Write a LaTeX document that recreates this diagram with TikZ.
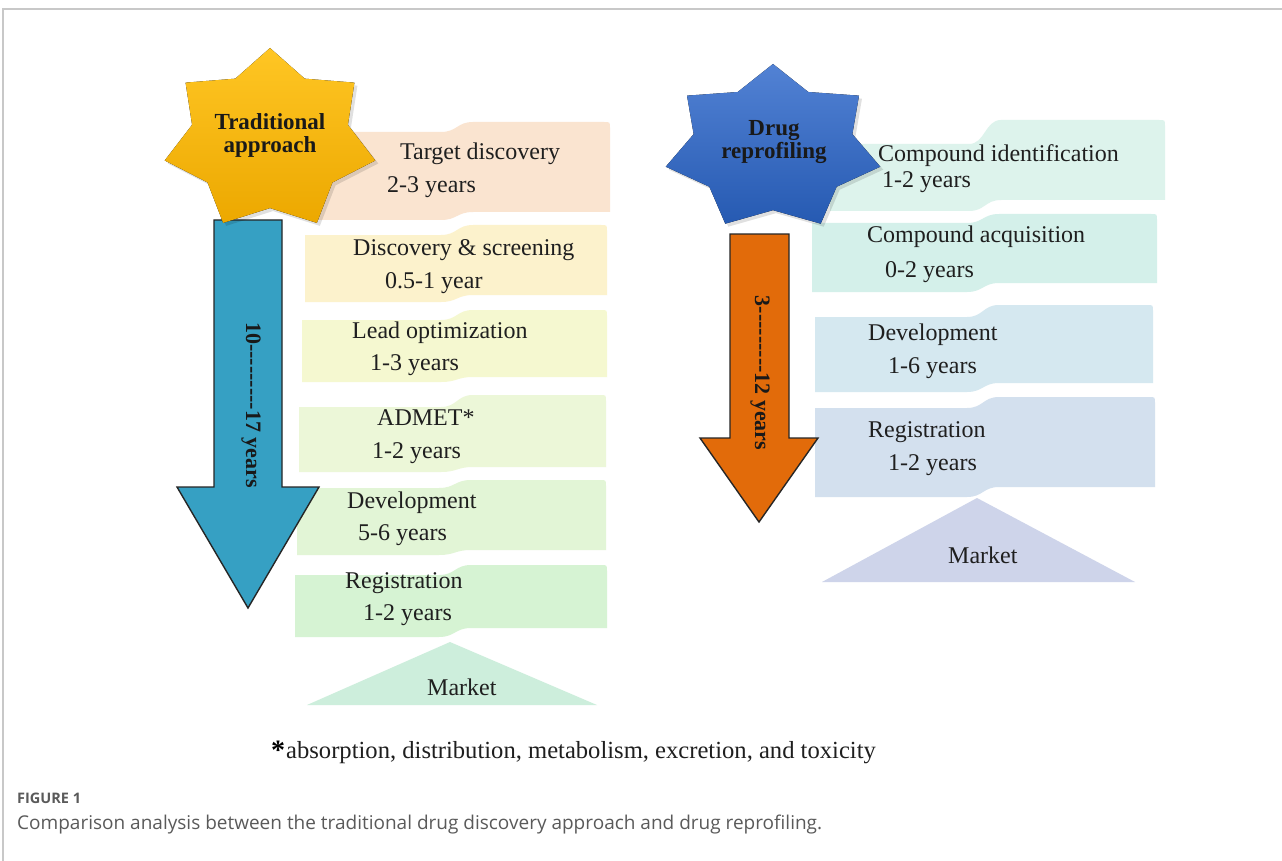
\documentclass[tikz,border=0pt]{standalone}
\usepackage{fontspec}
\setmainfont{Liberation Serif}
\newfontfamily\capfont{Open Sans}
\definecolor{framegray}{RGB}{200,200,200}
\definecolor{bA}{RGB}{250,228,208}
\definecolor{bB}{RGB}{252,242,204}
\definecolor{bC}{RGB}{245,248,208}
\definecolor{bD}{RGB}{236,247,216}
\definecolor{bE}{RGB}{226,245,214}
\definecolor{bF}{RGB}{214,243,211}
\definecolor{mL}{RGB}{205,238,220}
\definecolor{rA}{RGB}{221,243,236}
\definecolor{rB}{RGB}{212,240,234}
\definecolor{rC}{RGB}{213,232,240}
\definecolor{rD}{RGB}{211,224,238}
\definecolor{mR}{RGB}{206,212,234}
\definecolor{arrblue}{RGB}{54,160,195}
\definecolor{arrorange}{RGB}{226,107,10}
\definecolor{capgray}{RGB}{90,90,90}
\newcommand{\wavebanner}[8]{%
  \fill[#8] (#1,#4) -- ({#3-16},#4) .. controls (#3,#4) and (#3,#5) .. ({#3+16},#5)
    -- ({#2-6},#5) .. controls (#2,#5) and (#2,#5) .. (#2,{#5+6})
    -- (#2,#7) -- ({#3+16},#7) .. controls (#3,#7) and (#3,#6) .. ({#3-16},#6)
    -- (#1,#6) -- cycle;}
\newcommand{\sevenstar}[6]{%
  \begin{scope}[shift={(#1,#2)}]
  \fill[#6] ({0},{-#4}) \foreach \k in {0,...,6} {
     -- ({#3*#5*cos(-90+360/7*\k+180/7)},{#4*#5*sin(-90+360/7*\k+180/7)})
     -- ({#3*cos(-90+360/7*(\k+1))},{#4*sin(-90+360/7*(\k+1))}) } -- cycle;
  \end{scope}}
\tikzset{
  lbl/.style={anchor=base west, inner sep=0pt, font=\fontsize{24}{28}\selectfont, text=black!88},
  startxt/.style={anchor=base, inner sep=0pt, font=\bfseries\fontsize{23}{23}\selectfont, text=black!90},
  arrtxt/.style={rotate=-90, inner sep=0pt, font=\bfseries\fontsize{22}{22}\selectfont, text=black!90},
  arrowshape/.style={draw=black!85, line width=1.4pt, line join=miter}
}
\begin{document}
\begin{tikzpicture}[x=1pt,y=-1pt]
\useasboundingbox (0,0) rectangle (1282,861);
\fill[white] (0,0) rectangle (1282,861);
\draw[framegray, line width=1.2pt] (3,861) -- (3,9) -- (1282,9);

% left banners
\wavebanner{318}{610}{457}{132}{122}{220}{212}{bA}
\wavebanner{305}{607}{457}{235}{225}{302}{295}{bB}
\wavebanner{302}{607}{457}{320}{310}{382}{377}{bC}
\wavebanner{299}{606}{457}{407}{395}{472}{467}{bD}
\wavebanner{297}{606}{455}{488}{480}{555}{550}{bE}
\wavebanner{295}{607}{455}{575}{565}{637}{628}{bF}
\fill[mL] (450,642) -- (597,705) -- (307,705) -- cycle;

% right banners
\wavebanner{830}{1165}{985}{144}{120}{211}{200}{rA}
\wavebanner{812}{1157}{983}{223}{214}{292}{283}{rB}
\wavebanner{815}{1153}{983}{317}{305}{392}{383}{rC}
\wavebanner{815}{1155}{983}{408}{397}{497}{487}{rD}
\fill[mR] (977,498) -- (1135,582) -- (822,582) -- cycle;

% arrows
\draw[arrowshape, fill=arrblue] (214,220) -- (282,220) -- (282,487) -- (319,487) -- (248,608) -- (177,487) -- (214,487) -- cycle;
\draw[arrowshape, fill=arrorange] (730,234) -- (789,234) -- (789,438) -- (818,438) -- (759,522) -- (700,438) -- (730,438) -- cycle;

% stars
\sevenstar{273}{143}{108}{92}{0.74}{black, opacity=0.12}
\sevenstar{270}{140}{108}{92}{0.74}{top color={rgb,255:red,255;green,198;blue,36}, bottom color={rgb,255:red,236;green,168;blue,0}}
\sevenstar{776}{151}{110}{84}{0.74}{black, opacity=0.12}
\sevenstar{773}{148}{110}{84}{0.74}{top color={rgb,255:red,82;green,130;blue,212}, bottom color={rgb,255:red,38;green,90;blue,178}}

\node[startxt] (s1a) at (270,130) {Traditional};
\node[startxt] (s1b) at (270,153) {approach};
\node[startxt] (s2a) at (774,136) {Drug};
\node[startxt] (s2b) at (774,159) {reprofiling};

\node[arrtxt] (a1) at (251,405) {10-{}-{}-{}-{}-{}-{}-{}-{}-17 years};
\node[arrtxt] (a2) at (760,373) {3-{}-{}-{}-{}-{}-{}-{}-{}-12 years};

% left texts
\node[lbl] (l1a) at (400,160) {Target discovery};
\node[lbl] (l1b) at (387,193) {2-3 years};
\node[lbl] (l2a) at (353,255) {Discovery \& screening};
\node[lbl] (l2b) at (385,288) {0.5-1 year};
\node[lbl] (l3a) at (352,338) {Lead optimization};
\node[lbl] (l3b) at (370,370) {1-3 years};
\node[lbl] (l4a) at (377,425) {ADMET*};
\node[lbl] (l4b) at (372,458) {1-2 years};
\node[lbl] (l5a) at (347,508) {Development};
\node[lbl] (l5b) at (358,540) {5-6 years};
\node[lbl] (l6a) at (345,588) {Registration};
\node[lbl] (l6b) at (363,620) {1-2 years};
\node[lbl] (lm) at (427,695) {Market};

% right texts
\node[lbl] (r1a) at (878,162) {Compound identification};
\node[lbl] (r1b) at (882,188) {1-2 years};
\node[lbl] (r2a) at (867,243) {Compound acquisition};
\node[lbl] (r2b) at (885,277) {0-2 years};
\node[lbl] (r3a) at (868,340) {Development};
\node[lbl] (r3b) at (888,373) {1-6 years};
\node[lbl] (r4a) at (868,437) {Registration};
\node[lbl] (r4b) at (888,470) {1-2 years};
\node[lbl] (rm) at (948,563) {Market};

% footnote
\node[anchor=base west, inner sep=0pt, font=\bfseries\fontsize{28}{28}\selectfont] (fnstar) at (271,759) {*};
\node[anchor=base west, inner sep=0pt, font=\fontsize{24.6}{28}\selectfont, text=black!88] (fn) at (286,758) {absorption, distribution, metabolism, excretion, and toxicity};

% caption
\node[anchor=base west, inner sep=0pt, font=\capfont\bfseries\fontsize{14.5}{16}\selectfont, text=capgray] (capA) at (17,803) {FIGURE 1};
\node[anchor=base west, inner sep=0pt, font=\capfont\fontsize{19}{21}\selectfont, text=capgray] (capB) at (17,829) {Comparison analysis between the traditional drug discovery approach and drug reprofiling.};
\end{tikzpicture}
\end{document}
